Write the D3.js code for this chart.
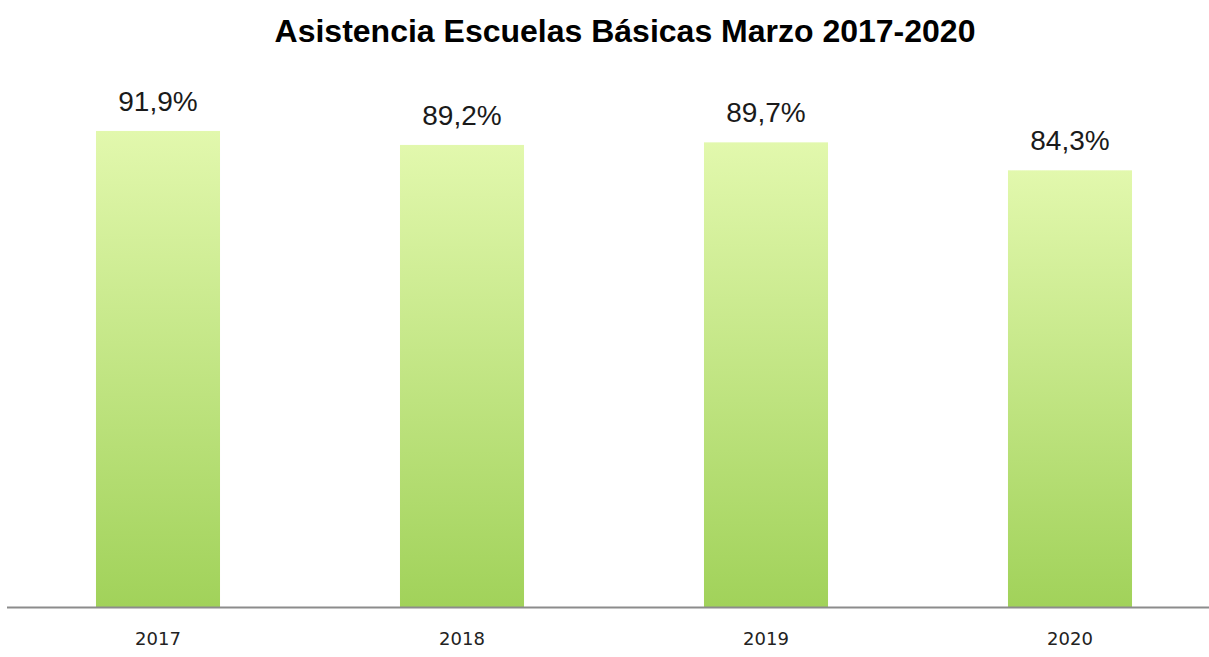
<!DOCTYPE html>
<html>
<head>
<meta charset="utf-8">
<script src="https://cdn.jsdelivr.net/npm/d3@7"></script>
<style>
  body { margin: 0; background: #fff; }
</style>
</head>
<body>
<script>
var years = ['2017', '2018', '2019', '2020'];
var values = [91.9, 89.2, 89.7, 84.3];
var labels = ['91,9%', '89,2%', '89,7%', '84,3%'];

var w = 1209, h = 657;
var baseY = 607;

var svg = d3.select('body')
            .append('svg')
            .attr('width', w)
            .attr('height', h);

var defs = svg.append('defs');
var grad = defs.append('linearGradient')
               .attr('id', 'barGrad')
               .attr('x1', 0).attr('y1', 0)
               .attr('x2', 0).attr('y2', 1);
grad.append('stop').attr('offset', '0%').attr('stop-color', '#e2f8ad');
grad.append('stop').attr('offset', '100%').attr('stop-color', '#a1d25a');

var x = d3.scaleBand()
          .domain(years)
          .range([6, 1222])
          .paddingInner(0.592)
          .paddingOuter(0.296);

var y = d3.scaleLinear()
          .domain([0, 100])
          .range([baseY, baseY - 518]);

svg.append('text')
   .attr('x', 625)
   .attr('y', 42)
   .attr('text-anchor', 'middle')
   .style('font-family', '"Liberation Sans", Arial, sans-serif')
   .style('font-weight', 'bold')
   .style('font-size', '32px')
   .style('fill', '#000')
   .text('Asistencia Escuelas Básicas Marzo 2017-2020');

var data = years.map(function(d, i){
  return { year: d, val: values[i], lab: labels[i] };
});

svg.selectAll('rect.bar')
   .data(data)
   .enter()
   .append('rect')
   .attr('class', 'bar')
   .attr('x', function(d){ return x(d.year); })
   .attr('y', function(d){ return y(d.val); })
   .attr('width', x.bandwidth())
   .attr('height', function(d){ return baseY - y(d.val); })
   .attr('fill', 'url(#barGrad)');

svg.selectAll('text.val')
   .data(data)
   .enter()
   .append('text')
   .attr('class', 'val')
   .attr('x', function(d){ return x(d.year) + x.bandwidth()/2; })
   .attr('y', function(d){ return y(d.val) - 20; })
   .attr('text-anchor', 'middle')
   .style('font-family', '"Liberation Sans", Arial, sans-serif')
   .style('font-size', '28px')
   .style('fill', '#1a1a1a')
   .text(function(d){ return d.lab; });

// baseline
svg.append('line')
   .attr('x1', 7).attr('x2', w)
   .attr('y1', baseY + 0.5).attr('y2', baseY + 0.5)
   .attr('stroke', '#8c8c8c')
   .attr('stroke-width', 2);

var xAxis = d3.axisBottom(x).tickSize(0).tickPadding(0);
var gx = svg.append('g')
            .attr('transform', 'translate(0,' + 645 + ')')
            .call(xAxis);
gx.select('.domain').remove();
gx.selectAll('text')
  .attr('dy', 0)
  .style('font-family', '"DejaVu Sans", sans-serif')
  .style('font-size', '18px')
  .style('fill', '#222');
</script>
</body>
</html>
